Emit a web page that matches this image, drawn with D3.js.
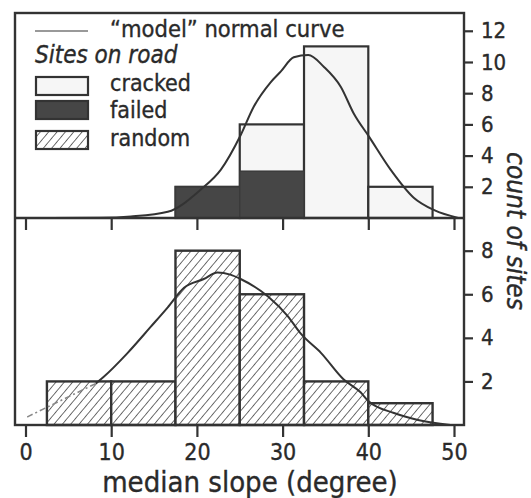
<!DOCTYPE html>
<html><head><meta charset="utf-8">
<script src="https://cdn.jsdelivr.net/npm/d3@7"></script>
<style>
body{margin:0;background:#fff}
text{font-family:"DejaVu Sans Condensed","DejaVu Sans",sans-serif;font-stretch:condensed;fill:#2a2a2a;stroke:#2a2a2a;stroke-width:0.35px}
</style>
</head><body><svg id="c" width="531" height="498"></svg>
<script>
// ---- data ----
const binStarts = [2.5, 10, 17.5, 25, 32.5, 40];
const binEnds   = [10, 17.5, 25, 32.5, 40, 47.5];
const crackedCounts = [0, 0, 2, 6, 11, 2];
const failedCounts  = [0, 0, 2, 3, 0, 0];
const randomCounts  = [2, 2, 8, 6, 2, 1];
const xTicks = [0, 10, 20, 30, 40, 50];
const topYTicks = [2, 4, 6, 8, 10, 12];
const bottomYTicks = [2, 4, 6, 8];
const topCurveX = [-1.2, 8.8, 12.3, 16.6, 20.4, 22.8, 25.1, 26.6, 28.6, 29.8, 31.3, 33.0, 34.8, 36.8, 38.3, 40.1, 42.6, 45.3, 47.7, 50.5];
const topCurveY = [0, 0.02, 0.1, 0.4, 1.8, 3.1, 5.3, 7.1, 8.7, 9.4, 10.3, 10.45, 9.7, 8.4, 6.7, 5.2, 3.1, 1.3, 0.5, 0.0];
const lowCurveDashX = [0.2, 4.0, 8.2];
const lowCurveDashY = [0.37, 1.1, 1.9];
const lowCurveX = [8.2, 9.1, 11.9, 14.6, 16.6, 18.5, 20.8, 22.4, 23.9, 25.1, 28.3, 30.6, 32.1, 34.5, 37.1, 39.1, 40.0, 43.0, 45.8, 49.6];
const lowCurveY = [1.9, 2.2, 3.3, 4.5, 5.4, 6.3, 6.7, 7.0, 6.9, 6.7, 5.9, 5.0, 4.2, 3.3, 2.1, 1.5, 1.1, 0.55, 0.23, 0];
const legendTitle = "\u201Cmodel\u201D normal curve";
const legendHeading = "Sites on road";
const legendLabels = ["cracked", "failed", "random"];
const xTitle = "median slope (degree)";
const yTitle = "count of sites";

// ---- drawing ----
const svg = d3.select("#c");
const ink = "#333";
const L = 15, R = 464, T = 13, MID = 218, B = 425;
const FONT = '"DejaVu Sans Condensed","DejaVu Sans",sans-serif';
const x = d3.scaleLinear().domain([0, 50]).range([25.5, 454]);
const yTop = d3.scaleLinear().domain([0, 13.14]).range([MID, T]);
const yBot = d3.scaleLinear().domain([0, 9.5]).range([B, MID]);

const defs = svg.append("defs");
const pat = defs.append("pattern").attr("id", "hatch").attr("patternUnits", "userSpaceOnUse")
  .attr("width", 6.4).attr("height", 6.4).attr("patternTransform", "rotate(40)");
pat.append("rect").attr("width", 6.4).attr("height", 6.4).attr("fill", "#fff");
pat.append("line").attr("x1", 0).attr("y1", 0).attr("x2", 0).attr("y2", 6.4)
  .attr("stroke", ink).attr("stroke-width", 1.4);

const bins = binStarts.map((s, i) => ({s, e: binEnds[i], c: crackedCounts[i], f: failedCounts[i], r: randomCounts[i]}));

// top panel: cracked
svg.append("g").selectAll("rect").data(bins.filter(d => d.c > 0)).join("rect")
  .attr("x", d => x(d.s)).attr("width", d => x(d.e) - x(d.s))
  .attr("y", d => yTop(d.c)).attr("height", d => yTop(0) - yTop(d.c))
  .attr("fill", "#f6f6f6").attr("stroke", ink).attr("stroke-width", 2.2);
// failed
svg.append("g").selectAll("rect").data(bins.filter(d => d.f > 0)).join("rect")
  .attr("x", d => x(d.s)).attr("width", d => x(d.e) - x(d.s))
  .attr("y", d => yTop(d.f)).attr("height", d => yTop(0) - yTop(d.f))
  .attr("fill", "#464646").attr("stroke", "#3a3a3a").attr("stroke-width", 1.5);
// bottom: random
svg.append("g").selectAll("rect").data(bins.filter(d => d.r > 0)).join("rect")
  .attr("x", d => x(d.s)).attr("width", d => x(d.e) - x(d.s))
  .attr("y", d => yBot(d.r)).attr("height", d => yBot(0) - yBot(d.r))
  .attr("fill", "url(#hatch)").attr("stroke", ink).attr("stroke-width", 2.4);

// curves
const lineTop = d3.line().x(d => x(d[0])).y(d => yTop(d[1])).curve(d3.curveMonotoneX);
const lineBot = d3.line().x(d => x(d[0])).y(d => yBot(d[1])).curve(d3.curveMonotoneX);
svg.append("path").attr("d", lineTop(d3.zip(topCurveX, topCurveY)))
  .attr("fill", "none").attr("stroke", ink).attr("stroke-width", 2);
svg.append("path").attr("d", lineBot(d3.zip(lowCurveDashX, lowCurveDashY)))
  .attr("fill", "none").attr("stroke", "#888").attr("stroke-width", 1.6).attr("stroke-dasharray", "6,3,2,3");
svg.append("path").attr("d", lineBot(d3.zip(lowCurveX, lowCurveY)))
  .attr("fill", "none").attr("stroke", ink).attr("stroke-width", 2);

// frame
svg.append("rect").attr("x", L).attr("y", T).attr("width", R - L).attr("height", B - T)
  .attr("fill", "none").attr("stroke", ink).attr("stroke-width", 2.4);
svg.append("line").attr("x1", L).attr("x2", R).attr("y1", MID).attr("y2", MID)
  .attr("stroke", ink).attr("stroke-width", 2.4);

// x axes
const axTopX = svg.append("g").attr("transform", `translate(0,${MID})`)
  .call(d3.axisBottom(x).tickValues(xTicks).tickSize(12).tickFormat(""));
const axBotX = svg.append("g").attr("transform", `translate(0,${B})`)
  .call(d3.axisBottom(x).tickValues(xTicks).tickSize(12).tickPadding(7));
[axTopX, axBotX].forEach(g => {
  g.select(".domain").remove();
  g.selectAll(".tick line").attr("stroke", ink).attr("stroke-width", 2.2);
});
axBotX.selectAll(".tick text").attr("font-size", 23).attr("fill", "#2a2a2a").style("font-family", FONT);

// right y axes
const axTopY = svg.append("g").attr("transform", `translate(${R},0)`)
  .call(d3.axisRight(yTop).tickValues(topYTicks).tickSize(9).tickPadding(8));
const axBotY = svg.append("g").attr("transform", `translate(${R},0)`)
  .call(d3.axisRight(yBot).tickValues(bottomYTicks).tickSize(9).tickPadding(8));
[axTopY, axBotY].forEach(g => {
  g.select(".domain").remove();
  g.selectAll(".tick line").attr("stroke", ink).attr("stroke-width", 2.2);
  g.selectAll(".tick text").attr("font-size", 22).attr("fill", "#2a2a2a").style("font-family", FONT);
});

// axis titles
svg.append("text").attr("x", 250).attr("y", 492).attr("text-anchor", "middle")
  .attr("font-size", 29).text(xTitle);
svg.append("text").attr("transform", `translate(507,231) rotate(90)`).attr("text-anchor", "middle")
  .attr("font-size", 26).attr("font-style", "italic").text(yTitle);

// legend
svg.append("line").attr("x1", 35).attr("x2", 88).attr("y1", 31).attr("y2", 31)
  .attr("stroke", "#999").attr("stroke-width", 2.2);
svg.append("text").attr("x", 110).attr("y", 37).attr("font-size", 23.5).text(legendTitle);
svg.append("text").attr("x", 35).attr("y", 63).attr("font-size", 24).attr("font-style", "italic").text(legendHeading);
const swFill = ["#f6f6f6", "#464646", "url(#hatch)"];
const swY = [77, 101, 131];
const baseY = [91, 118, 146];
legendLabels.forEach((lab, i) => {
  svg.append("rect").attr("x", 36).attr("y", swY[i]).attr("width", 52).attr("height", 18)
    .attr("fill", swFill[i]).attr("stroke", ink).attr("stroke-width", 2.2);
  svg.append("text").attr("x", 110).attr("y", baseY[i]).attr("font-size", 23).text(lab);
});
</script></body></html>
